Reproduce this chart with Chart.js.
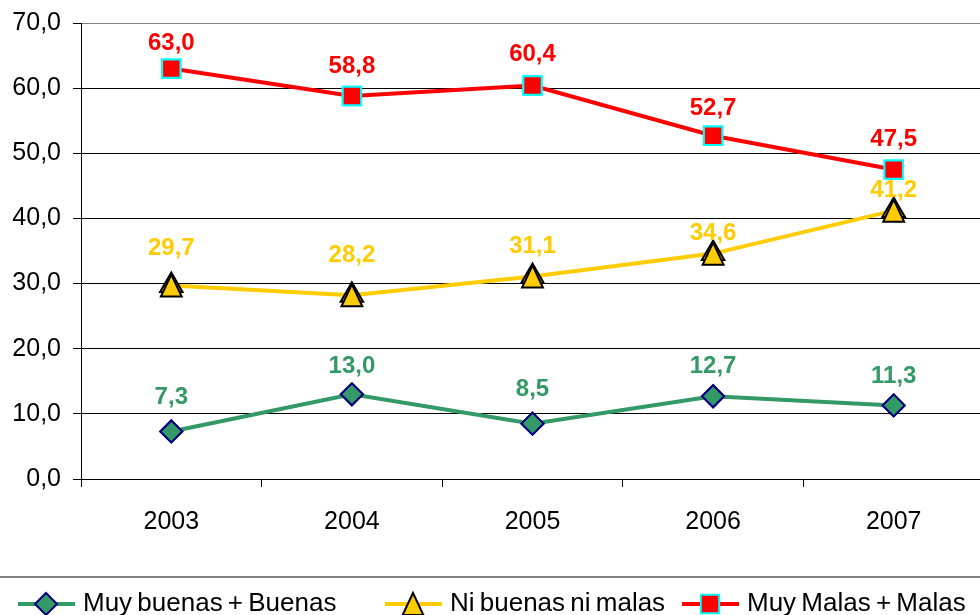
<!DOCTYPE html>
<html>
<head>
<meta charset="utf-8">
<script src="https://cdn.jsdelivr.net/npm/chart.js@4/dist/chart.umd.min.js"></script>
<style>
    html, body { margin: 0; padding: 0; background: #fff; overflow: hidden; }
    .chartBox { position: relative; width: 1000px; height: 615px; }
</style>
</head>
<body>
<div class="chartBox"><canvas id="myChart"></canvas></div>
<script>
const years = ['2003', '2004', '2005', '2006', '2007'];
const seriesNames = ['Muy buenas + Buenas', 'Ni buenas ni malas', 'Muy Malas + Malas'];
const goodValues = [7.3, 13.0, 8.5, 12.7, 11.3];
const neutralValues = [29.7, 28.2, 31.1, 34.6, 41.2];
const badValues = [63.0, 58.8, 60.4, 52.7, 47.5];
const yTicks = [0, 10, 20, 30, 40, 50, 60, 70];

// how far each value label sits above its marker (px)
const goodLift = [34, 28, 34, 30, 29];
const neutralLift = [37, 40, 30, 20, 20];
const badLift = [25, 30, 31, 27, 30];

const fontName = "'Liberation Sans', Arial, sans-serif";

function formatNum(v) {
    return v.toFixed(1).replace('.', ',');
}

function drawMarker(ctx, style, r, x, y, fill, stroke, bw) {
    ctx.save();
    ctx.beginPath();
    if (style === 'rect') {
        const s = Math.SQRT1_2 * r;
        ctx.rect(x - s, y - s, 2 * s, 2 * s);
    } else if (style === 'rectRot') {
        ctx.moveTo(x - r, y);
        ctx.lineTo(x, y - r);
        ctx.lineTo(x + r, y);
        ctx.lineTo(x, y + r);
        ctx.closePath();
    } else {
        // triangle with its box centred on the point, like Excel does
        const hw = r * 0.8, hh = r * 0.85;
        ctx.moveTo(x, y - hh);
        ctx.lineTo(x + hw, y + hh);
        ctx.lineTo(x - hw, y + hh);
        ctx.closePath();
    }
    ctx.fillStyle = fill;
    ctx.fill();
    ctx.lineWidth = bw;
    ctx.strokeStyle = stroke;
    ctx.lineJoin = 'miter';
    ctx.stroke();
    ctx.restore();
}

const valueLabels = {
    id: 'valueLabels',
    afterDatasetsDraw(chart) {
        const ctx = chart.ctx;
        ctx.save();
        ctx.font = 'bold 24px ' + fontName;
        ctx.textAlign = 'center';
        ctx.textBaseline = 'middle';
        chart.data.datasets.forEach((ds, i) => {
            const meta = chart.getDatasetMeta(i);
            meta.data.forEach((pt, j) => {
                ctx.fillStyle = ds.borderColor;
                ctx.fillText(formatNum(ds.data[j]), pt.x, pt.y - ds.labelLift[j]);
            });
        });
        ctx.restore();
    }
};

const bottomLegend = {
    id: 'bottomLegend',
    afterDraw(chart) {
        const ctx = chart.ctx;
        const starts = [18, 385, 682];
        const yMid = 604;
        ctx.save();
        ctx.strokeStyle = '#808080';
        ctx.lineWidth = 2;
        ctx.beginPath();
        ctx.moveTo(0, 577);
        ctx.lineTo(chart.width, 577);
        ctx.stroke();
        chart.data.datasets.forEach((ds, i) => {
            const x0 = starts[i];
            ctx.strokeStyle = ds.borderColor;
            ctx.lineWidth = 4;
            ctx.beginPath();
            ctx.moveTo(x0, yMid);
            ctx.lineTo(x0 + 57, yMid);
            ctx.stroke();
            drawMarker(ctx, ds.pointStyle, ds.pointRadius, x0 + 28, yMid,
                ds.pointBackgroundColor, ds.pointBorderColor, ds.pointBorderWidth);
            ctx.fillStyle = '#000';
            ctx.font = '26px ' + fontName;
            ctx.textAlign = 'left';
            ctx.textBaseline = 'alphabetic';
            if ('wordSpacing' in ctx) ctx.wordSpacing = '-2px';
            ctx.fillText(ds.label, x0 + 65, 611);
        });
        ctx.restore();
    }
};

const markerPlugin = {
    id: 'markerPlugin',
    afterDatasetsDraw(chart) {
        chart.data.datasets.forEach((ds, i) => {
            chart.getDatasetMeta(i).data.forEach(pt => {
                drawMarker(chart.ctx, ds.pointStyle, ds.pointRadius, pt.x, pt.y,
                    ds.pointBackgroundColor, ds.pointBorderColor, ds.pointBorderWidth);
            });
        });
    }
};

const ctx = document.getElementById('myChart');
new Chart(ctx, {
    type: 'line',
    data: {
        labels: years,
        datasets: [
            {
                label: seriesNames[0],
                data: goodValues,
                labelLift: goodLift,
                borderColor: '#339966',
                borderWidth: 4,
                tension: 0,
                pointStyle: 'rectRot',
                pointRadius: 11,
                pointBackgroundColor: '#339966',
                pointBorderColor: '#000080',
                pointBorderWidth: 2
            },
            {
                label: seriesNames[1],
                data: neutralValues,
                labelLift: neutralLift,
                borderColor: '#FFCC00',
                borderWidth: 4,
                tension: 0,
                pointStyle: 'triangle',
                pointRadius: 13,
                pointBackgroundColor: '#FFCC00',
                pointBorderColor: '#000000',
                pointBorderWidth: 2
            },
            {
                label: seriesNames[2],
                data: badValues,
                labelLift: badLift,
                borderColor: '#FF0000',
                borderWidth: 4,
                tension: 0,
                pointStyle: 'rect',
                pointRadius: 13,
                pointBackgroundColor: '#FF0000',
                pointBorderColor: '#00FFFF',
                pointBorderWidth: 2
            }
        ]
    },
    options: {
        responsive: true,
        maintainAspectRatio: false,
        animation: false,
        elements: { point: { radius: 0, hoverRadius: 0 } },
        layout: { padding: { left: 0, right: 16, top: 23, bottom: 0 } },
        scales: {
            x: {
                offset: true,
                grid: {
                    offset: true,
                    drawOnChartArea: false,
                    drawTicks: true,
                    tickLength: 8,
                    tickColor: '#000'
                },
                border: { color: '#000', width: 1 },
                ticks: {
                    color: '#000',
                    padding: 20,
                    maxRotation: 0,
                    font: { family: fontName, size: 25 }
                },
                afterFit(scale) {
                    scale.height = 136;
                    scale.paddingLeft = 0;
                    scale.paddingRight = 0;
                }
            },
            y: {
                min: 0,
                max: 70,
                afterBuildTicks(scale) { scale.ticks = yTicks.map(v => ({ value: v })); },
                grid: {
                    color: c => c.tick && c.tick.value === 70 ? '#808080' : '#000',
                    lineWidth: 1,
                    tickLength: 8,
                    tickColor: '#000'
                },
                border: { color: '#000', width: 1 },
                ticks: {
                    color: '#000',
                    padding: 12,
                    font: { family: fontName, size: 25 },
                    callback: v => formatNum(v)
                },
                afterFit(scale) {
                    scale.width = 81;
                    scale.paddingTop = 0;
                    scale.paddingBottom = 0;
                }
            }
        },
        plugins: {
            legend: { display: false },
            tooltip: { enabled: false }
        }
    },
    plugins: [markerPlugin, valueLabels, bottomLegend]
});
</script>
</body>
</html>
